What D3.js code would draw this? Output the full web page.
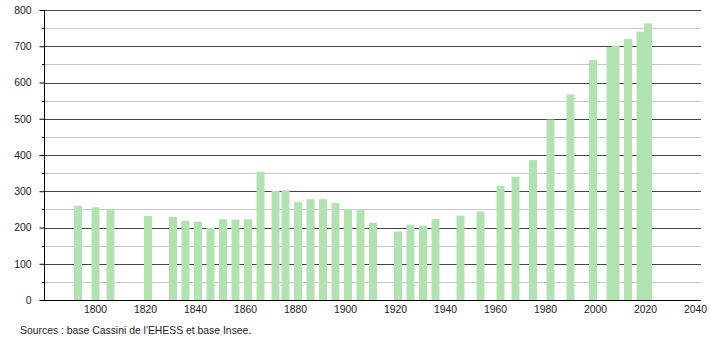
<!DOCTYPE html>
<html>
<head>
<meta charset="utf-8">
<script src="https://cdn.jsdelivr.net/npm/d3@7"></script>
<style>
  body { margin: 0; background: #fff; }
  svg { display: block; font-family: "Liberation Sans", Arial, sans-serif; }
</style>
</head>
<body>
<svg id="chart"></svg>
<script>
// census years and population
const years = [1793, 1800, 1806, 1821, 1831, 1836, 1841, 1846, 1851, 1856, 1861, 1866, 1872, 1876,
  1881, 1886, 1891, 1896, 1901, 1906, 1911, 1921, 1926, 1931, 1936, 1946, 1954, 1962, 1968, 1975,
  1982, 1990, 1999, 2006, 2008, 2013, 2018, 2021];
const population = [260, 256, 248, 232, 229, 219, 216, 199, 223, 222, 223, 354, 301, 303,
  270, 278, 278, 268, 251, 248, 213, 189, 208, 205, 223, 233, 244, 315, 340, 386,
  498, 567, 662, 698, 702, 720, 740, 763];
const xTicks = [1800, 1820, 1840, 1860, 1880, 1900, 1920, 1940, 1960, 1980, 2000, 2020, 2040];
const yMajor = [0, 100, 200, 300, 400, 500, 600, 700, 800];
const yMinor = [50, 150, 250, 350, 450, 550, 650, 750];
const sourceText = "Sources : base Cassini de l'EHESS et base Insee.";

const width = 710, height = 340;
const margin = { left: 44, right: 701, top: 10, bottom: 300 };
const fontSize = 10.4;

const svg = d3.select("#chart").attr("width", width).attr("height", height);

const x = d3.scaleLinear().domain([1779.6, 2042.4]).range([margin.left, margin.right]);
const y = d3.scaleLinear().domain([0, 800]).range([margin.bottom, margin.top]);

// grid: minor light, major dark
svg.append("g").selectAll("line").data(yMinor).join("line")
  .attr("x1", margin.left).attr("x2", margin.right)
  .attr("y1", d => Math.round(y(d)) + 0.5).attr("y2", d => Math.round(y(d)) + 0.5)
  .attr("stroke", "#c8c8c8");
svg.append("g").selectAll("line").data(yMajor.slice(1)).join("line")
  .attr("x1", margin.left).attr("x2", margin.right)
  .attr("y1", d => Math.round(y(d)) + 0.5).attr("y2", d => Math.round(y(d)) + 0.5)
  .attr("stroke", "#444");

// bars
const data = years.map((yr, i) => ({ year: yr, value: population[i] }));
const barW = 8;
svg.append("g").selectAll("rect").data(data).join("rect")
  .attr("x", d => x(d.year) - barW / 2 + 0.5)
  .attr("width", barW)
  .attr("y", d => y(d.value))
  .attr("height", d => margin.bottom - y(d.value))
  .attr("fill", "#b1e3b1");

// y axis
const yAxis = svg.append("g").attr("transform", `translate(${margin.left + 0.5},0)`)
  .call(d3.axisLeft(y).tickValues(yMajor).tickSize(5).tickPadding(8).tickFormat(d3.format("d")));
yAxis.select(".domain").attr("stroke", "#000").attr("d", `M0,${margin.top}V${margin.bottom}`);
yAxis.selectAll(".tick line").attr("stroke", "#000");
yAxis.selectAll("text").attr("font-size", fontSize).attr("fill", "#222").attr("font-family", null);
svg.append("g").selectAll("line").data(yMinor).join("line")
  .attr("x1", margin.left - 2).attr("x2", margin.left)
  .attr("y1", d => Math.round(y(d)) + 0.5).attr("y2", d => Math.round(y(d)) + 0.5)
  .attr("stroke", "#000");

// x axis
const xAxis = svg.append("g").attr("transform", `translate(0,${margin.bottom + 0.5})`)
  .call(d3.axisBottom(x).tickValues(xTicks).tickSize(0).tickPadding(5).tickFormat(d3.format("d")));
xAxis.select(".domain").attr("stroke", "#000").attr("d", `M${margin.left},0H${margin.right}`);
xAxis.selectAll("text").attr("font-size", fontSize).attr("fill", "#222").attr("font-family", null);

// source note
svg.append("text")
  .attr("x", 20).attr("y", 334)
  .attr("font-size", fontSize).attr("fill", "#222")
  .text(sourceText);
</script>
</body>
</html>
